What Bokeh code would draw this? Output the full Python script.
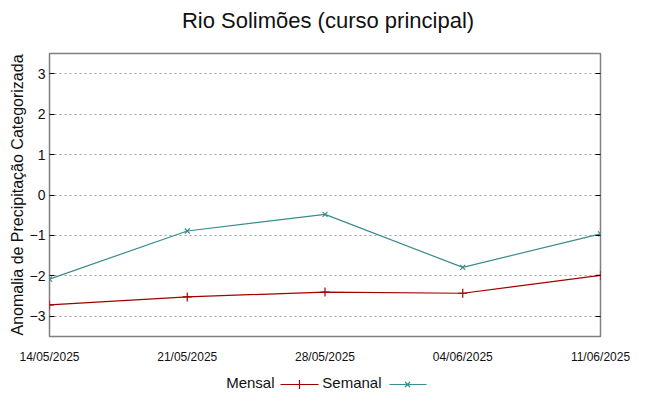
from bokeh.plotting import figure
from bokeh.models import Range1d, FixedTicker, LinearAxis
from bokeh.layouts import column
from bokeh.embed import file_html
from bokeh.resources import INLINE
from bokeh.core.properties import value

# ---- data ----
dates = ["14/05/2025", "21/05/2025", "28/05/2025", "04/06/2025", "11/06/2025"]
mensal = [-2.72, -2.52, -2.40, -2.43, -1.99]
semanal = [-2.08, -0.89, -0.48, -1.79, -0.96]
y_ticks = [-3, -2, -1, 0, 1, 2, 3]
title_text = "Rio Solimões (curso principal)"
y_label = "Anomalia de Precipitação Categorizada"
series_names = ["Mensal", "Semanal"]

FONT = "Liberation Sans"
RED = "#a00000"
TEAL = "#3a8c8c"
TXT = "#111111"

x = list(range(len(dates)))

W = 649
H_TITLE, H_MAIN, H_LEG = 40, 328, 28
BL, BR = 49, 49


def strip(height):
    f = figure(width=W, height=height, output_backend="svg", toolbar_location=None,
               x_range=Range1d(BL, W - BR), y_range=Range1d(0, height),
               min_border_left=BL, min_border_right=BR, min_border_top=0, min_border_bottom=0)
    f.axis.visible = False
    f.grid.visible = False
    f.outline_line_color = None
    return f


# ---- title strip ----
tf = strip(H_TITLE)
tf.text(x=[(BL + W - BR) / 2 + 3], y=[H_TITLE - 20], text=[title_text], text_align="center",
        text_baseline="middle", text_font=value(FONT), text_font_size="22px",
        text_color=TXT)

# ---- main plot ----
p = figure(width=W, height=H_MAIN, output_backend="svg", toolbar_location=None,
           x_range=Range1d(x[0], x[-1]), y_range=Range1d(-3.5, 3.5),
           min_border_left=BL, min_border_right=BR,
           min_border_top=53 - H_TITLE, min_border_bottom=32)

xa = p.xaxis[0]
xa.ticker = FixedTicker(ticks=x)
xa.major_label_overrides = {i: d for i, d in zip(x, dates)}
xa.axis_line_color = None
xa.major_tick_line_color = None
xa.minor_tick_line_color = None
xa.major_tick_out = 0
xa.major_label_standoff = 13
xa.major_label_text_font = FONT
xa.major_label_text_font_size = "12px"
xa.major_label_text_color = TXT

ya = p.yaxis[0]
ya.ticker = FixedTicker(ticks=y_ticks)
ya.axis_line_color = None
ya.major_tick_in = 5
ya.major_tick_out = 0
ya.major_tick_line_color = "#000000"
ya.minor_tick_line_color = None
ya.major_label_standoff = 4
ya.major_label_text_font = FONT
ya.major_label_text_font_size = "14px"
ya.major_label_text_color = TXT
ya.axis_label = y_label
ya.axis_label_text_font = FONT
ya.axis_label_text_font_size = "16px"
ya.axis_label_text_font_style = "normal"
ya.axis_label_text_color = TXT
ya.axis_label_standoff = 1

ra = LinearAxis(ticker=FixedTicker(ticks=y_ticks),
                major_label_overrides={t: "" for t in y_ticks})
ra.axis_line_color = None
ra.major_tick_in = 5
ra.major_tick_out = 0
ra.major_tick_line_color = "#000000"
ra.minor_tick_line_color = None
ra.major_label_text_font_size = "1px"
p.add_layout(ra, "right")

p.xgrid.visible = False
p.ygrid.ticker = FixedTicker(ticks=y_ticks)
p.ygrid.grid_line_color = "#a0a0a0"
p.ygrid.grid_line_dash = "2 3"
p.ygrid.grid_line_width = 1

p.outline_line_color = "#808080"
p.outline_line_width = 1.5

p.line(x, mensal, line_color=RED, line_width=1.2)
p.scatter(x, mensal, marker="cross", size=9, line_color=RED, line_width=1.2)
p.line(x, semanal, line_color=TEAL, line_width=1.2)
p.scatter(x, semanal, marker="x", size=7, line_color=TEAL, line_width=1.2)

# ---- legend strip (text left of sample, like the reference) ----
lf = strip(H_LEG)
TOTAL_H = H_TITLE + H_MAIN + H_LEG
def ly(page_y):
    return TOTAL_H - page_y

lf.text(x=[274, 381], y=[ly(382), ly(382)], text=series_names, text_align="right",
        text_baseline="middle", text_font=value(FONT), text_font_size="15px",
        text_color=TXT)
lf.line([280, 318], [ly(384), ly(384)], line_color=RED, line_width=1.2)
lf.scatter([299], [ly(384)], marker="cross", size=9, line_color=RED, line_width=1.2)
lf.line([389, 426], [ly(384), ly(384)], line_color=TEAL, line_width=1.2)
lf.scatter([407], [ly(384)], marker="x", size=7, line_color=TEAL, line_width=1.2)

layout = column(tf, p, lf, spacing=0)
open("out.html", "w").write(file_html(layout, INLINE))
